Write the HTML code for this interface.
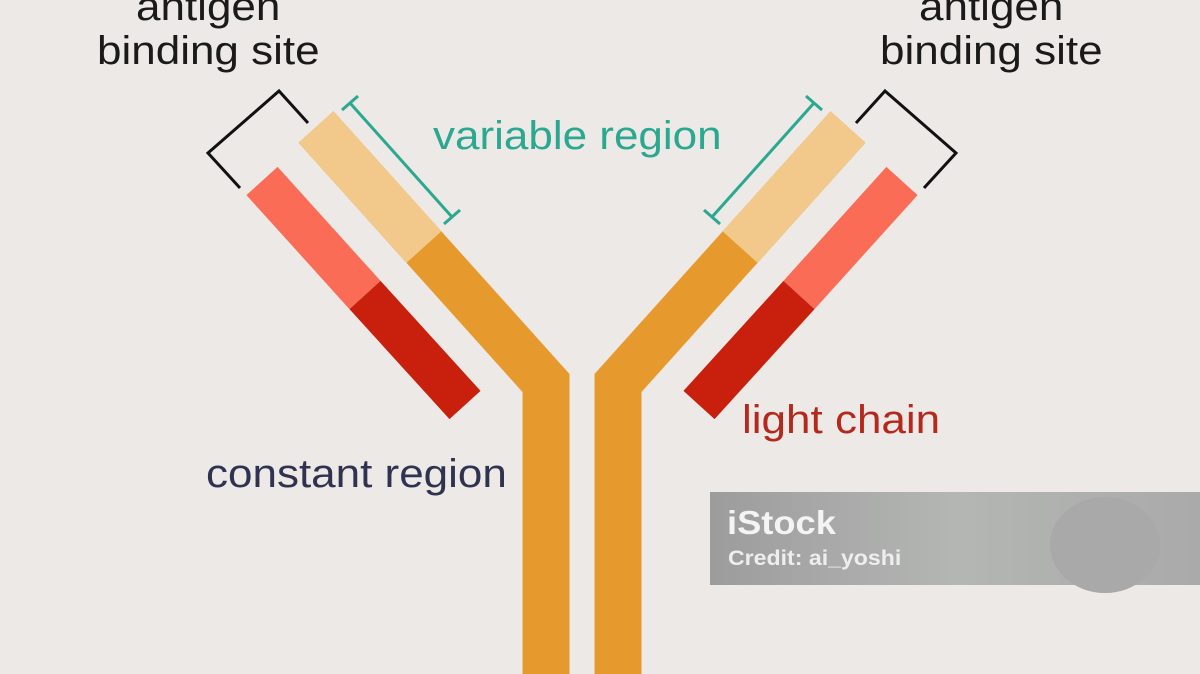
<!DOCTYPE html>
<html><head><style>
body{margin:0;width:1200px;height:674px;overflow:hidden;background:#ECE9E6;font-family:"Liberation Sans",sans-serif;}
svg{position:absolute;left:0;top:0}
.t{position:absolute;white-space:nowrap;line-height:1;transform:scaleX(1.1);transform-origin:0 0}
</style></head><body>
<svg width="1200" height="674">
<polyline points="316,127 546,383 546,700" fill="none" stroke="#E69A2E" stroke-width="47" stroke-linejoin="miter"/>
<polyline points="848,127 618,383 618,700" fill="none" stroke="#E69A2E" stroke-width="47" stroke-linejoin="miter"/>
<line x1="316" y1="127" x2="424" y2="247" stroke="#F2C98A" stroke-width="47"/>
<line x1="848" y1="127" x2="740" y2="247" stroke="#F2C98A" stroke-width="47"/>
<line x1="262" y1="181" x2="365" y2="295" stroke="#FA6C55" stroke-width="42"/>
<line x1="365" y1="295" x2="465" y2="405" stroke="#C9200E" stroke-width="42"/>
<line x1="902" y1="181" x2="799" y2="295" stroke="#FA6C55" stroke-width="42"/>
<line x1="799" y1="295" x2="699" y2="405" stroke="#C9200E" stroke-width="42"/>
<polyline points="240,188 208,153 279,91 308,123" fill="none" stroke="#111" stroke-width="3"/>
<polyline points="924,188 956,153 885,91 856,123" fill="none" stroke="#111" stroke-width="3"/>
<g stroke="#2BA890" stroke-width="3" fill="none">
<line x1="350" y1="103" x2="452" y2="217"/>
<line x1="342" y1="110" x2="358" y2="96"/>
<line x1="444" y1="224" x2="460" y2="210"/>
<line x1="814" y1="103" x2="712" y2="217"/>
<line x1="806" y1="96" x2="822" y2="110"/>
<line x1="704" y1="210" x2="720" y2="224"/>
</g>
<defs><linearGradient id="g" x1="0" x2="1"><stop offset="0" stop-color="#9c9c9c"/><stop offset="0.5" stop-color="#b4b6b4"/><stop offset="1" stop-color="#a9aaa9"/></linearGradient></defs>
<rect x="710" y="492" width="490" height="93" fill="url(#g)"/>
<ellipse cx="1105" cy="545" rx="55" ry="48" fill="#a8a9a8"/>
</svg>
<div class="t" style="left:136px;top:-13px;font-size:40px;color:#1a1a1a">antigen</div>
<div class="t" style="left:97px;top:31px;font-size:40px;color:#1a1a1a">binding site</div>
<div class="t" style="left:919px;top:-13px;font-size:40px;color:#1a1a1a">antigen</div>
<div class="t" style="left:880px;top:31px;font-size:40px;color:#1a1a1a">binding site</div>
<div class="t" style="left:433px;top:116px;font-size:40px;color:#2BA890">variable region</div>
<div class="t" style="left:206px;top:454px;font-size:40px;color:#2f3350">constant region</div>
<div class="t" style="left:742px;top:400px;font-size:40px;color:#B5281C">light chain</div>
<div class="t" style="left:727px;top:506px;font-size:33px;font-weight:bold;color:#f4f4f4">iStock</div>
<div class="t" style="left:728px;top:548px;font-size:21px;font-weight:bold;color:#eeeeee">Credit: ai_yoshi</div>
</body></html>
